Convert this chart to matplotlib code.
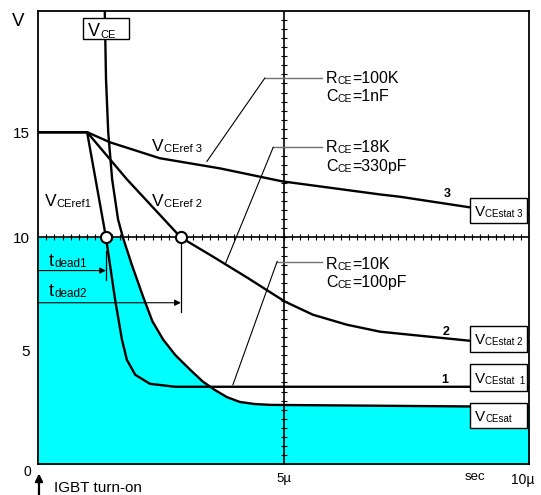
import numpy as np
import matplotlib
matplotlib.use('Agg')
import matplotlib.pyplot as plt
from matplotlib.patches import Rectangle

plt.rcParams['font.family'] = ['Liberation Sans', 'DejaVu Sans']

# curves (time in us, voltage in V)
plateau = 14.65

t_vce = [1.36, 1.385, 1.43, 1.51, 1.63, 1.73, 1.91, 2.14, 2.33, 2.55, 2.80, 3.10, 3.35, 3.60, 3.85, 4.11, 4.40, 4.73, 10.0]
v_vce = [20.0, 17.0, 14.65, 12.57, 10.8, 10.0, 8.8, 7.39, 6.3, 5.49, 4.8, 4.16, 3.65, 3.27, 2.95, 2.74, 2.65, 2.61, 2.52]

t_ref1 = [0, 1.0, 1.385, 1.57, 1.71, 1.81, 1.98, 2.28, 2.79, 10.0]
v_ref1 = [14.65, 14.65, 10.0, 7.26, 5.49, 4.6, 3.94, 3.54, 3.41, 3.41]

t_ref2 = [0, 1.0, 1.81, 2.91, 3.56, 4.26, 5.03, 5.60, 6.29, 6.97, 8.80, 10.0]
v_ref2 = [14.65, 14.65, 12.57, 10.0, 9.16, 8.23, 7.17, 6.59, 6.15, 5.84, 5.44, 5.40]

t_ref3 = [0, 1.0, 1.47, 2.48, 3.30, 3.71, 4.97, 6.97, 7.37, 8.80, 10.0]
v_ref3 = [14.65, 14.65, 14.2, 13.5, 13.2, 13.05, 12.48, 11.9, 11.8, 11.33, 11.0]

# dead time crossings at 10 V
t_dead = [1.385, 2.91]
ytick_pos = [5, 10, plateau]
ytick_labels = ['5', '10', '15']

rc_labels = [('100K', '1nF'), ('18K', '330pF'), ('10K', '100pF')]
stat_labels = ['CEstat 3', 'CEstat 2', 'CEstat  1', 'CEsat']

fig = plt.figure(figsize=(5.41, 4.95), dpi=100)
ax = fig.add_axes([38 / 541, 31 / 495, 491 / 541, 453 / 495])
ax.set_xlim(0, 10)
ax.set_ylim(0, 20)

# cyan area under VCE, capped at 10 V
t_fill = np.concatenate([[0], t_vce])
v_fill = np.minimum(np.concatenate([[10], v_vce]), 10)
ax.fill_between(t_fill, 0, v_fill, color='#00ffff', lw=0, zorder=1)

# crosshair with small ticks
ax.axhline(10, color='black', lw=1.2, zorder=2)
ax.axvline(5, color='black', lw=1.2, zorder=2)
ax.plot(np.arange(1, 60) / 6, np.full(59, 10.0), ls='none', marker='|', ms=5, mew=0.8, color='black', zorder=2)
ax.plot(np.full(49, 5.0), np.arange(1, 50) * 0.4, ls='none', marker='_', ms=5, mew=0.8, color='black', zorder=2)

# curves
for tt, vv in [(t_vce, v_vce), (t_ref1, v_ref1), (t_ref2, v_ref2), (t_ref3, v_ref3)]:
    ax.plot(tt, vv, color='black', lw=1.7, zorder=3, solid_joinstyle='round')

ax.plot(t_dead, [10, 10], ls='none', marker='o', ms=8, mfc='white', mec='black', mew=1.5, zorder=6)

# dead time arrows
for td, ya, ybot in zip(t_dead, [8.54, 7.12], [8.14, 6.73]):
    ax.annotate('', xy=(td, ya), xytext=(0, ya),
                arrowprops=dict(arrowstyle='-|>', lw=0.8, color='black', mutation_scale=9, shrinkA=0, shrinkB=0), zorder=4)
    ax.plot([td, td], [9.4 if td < 2 else 10, ybot], color='black', lw=0.9, zorder=4)


def sublabel(x, y, main, sub, rest='', size=12, subsize=7.5, z=7):
    m = ax.text(x, y, main, fontsize=size, va='baseline', ha='left', zorder=z)
    s = ax.annotate(sub, xy=(1, 0), xycoords=m, xytext=(0.2, 0), textcoords='offset points',
                    fontsize=subsize, va='bottom', ha='left', zorder=z)
    if rest:
        ax.annotate(rest, xy=(1, 0), xycoords=(s, m), xytext=(0.2, 0), textcoords='offset points',
                    fontsize=size, va='bottom', ha='left', zorder=z)
    return m


sublabel(0.22, 8.75, 't', 'dead1', size=13, subsize=8.5)
sublabel(0.22, 7.40, 't', 'dead2', size=13, subsize=8.5)
sublabel(0.14, 11.40, 'V', 'CEref1', size=12.5, subsize=8)
sublabel(2.32, 11.37, 'V', 'CEref 2', size=12.5, subsize=8)
sublabel(2.32, 13.80, 'V', 'CEref 3', size=12.5, subsize=8)

# leader lines to the RC annotations
leaders = [(4.62, 17.04, 3.44, 13.36), (4.79, 13.98, 3.81, 8.81), (4.87, 8.94, 3.97, 3.50)]
rc_base = [(16.81, 16.02), (13.76, 12.92), (8.63, 7.83)]
for (xk, yk, xe, ye), (r, c), (yb1, yb2) in zip(leaders, rc_labels, rc_base):
    ax.plot([xk, 5.78], [yk, yk], color='#707070', lw=1.0, zorder=4)
    ax.plot([xk, xe], [yk, ye], color='black', lw=0.8, zorder=4)
    sublabel(5.87, yb1, 'R', 'CE', '=' + r, size=11.5, subsize=7.5)
    sublabel(5.87, yb2, 'C', 'CE', '=' + c, size=11.5, subsize=7.5)

# boxes on the right
box_y = [(10.62, 11.73), (4.96, 6.11), (3.23, 4.42), (1.59, 2.70)]
for (y0, y1), lab in zip(box_y, stat_labels):
    ax.add_patch(Rectangle((8.80, y0), 1.16, y1 - y0, fc='white', ec='black', lw=1.0, zorder=5, clip_on=False))
    sublabel(8.90, y0 + 0.33, 'V', lab, size=11, subsize=7)

ax.add_patch(Rectangle((0.92, 18.76), 0.93, 0.93, fc='white', ec='black', lw=1.0, zorder=5))
sublabel(1.02, 18.89, 'V', 'CE', size=13, subsize=8)

for num, tx, vy in [('3', 8.33, 11.9), ('2', 8.31, 5.84), ('1', 8.29, 3.72)]:
    ax.text(tx, vy, num, fontsize=9, fontweight='bold', ha='center', va='center', zorder=7)

# axis labels
ax.set_xticks([])
ax.set_yticks(ytick_pos, ytick_labels, fontsize=11)
ax.tick_params(axis='y', length=0, pad=6)
for sp in ax.spines.values():
    sp.set_linewidth(1.3)

fig.text(18 / 541, 1 - 21.5 / 495, 'V', fontsize=13.5, ha='center', va='center')
ax.text(-0.22, -0.35, '0', fontsize=10, ha='center', va='center', clip_on=False)
ax.text(5, -0.66, '5µ', fontsize=9.5, ha='center', va='center', clip_on=False)
ax.text(8.9, -0.58, 'sec', fontsize=9.5, ha='center', va='center', clip_on=False)
ax.text(9.88, -0.71, '10µ', fontsize=10, ha='center', va='center', clip_on=False)
ax.text(0.33, -1.06, 'IGBT turn-on', fontsize=11, ha='left', va='center', clip_on=False)
ax.annotate('', xy=(0.02, -0.42), xytext=(0.02, -1.45),
            arrowprops=dict(arrowstyle='-|>', lw=1.6, color='black', mutation_scale=11, shrinkA=0, shrinkB=0),
            annotation_clip=False)

fig.savefig('out.png', dpi=100)
